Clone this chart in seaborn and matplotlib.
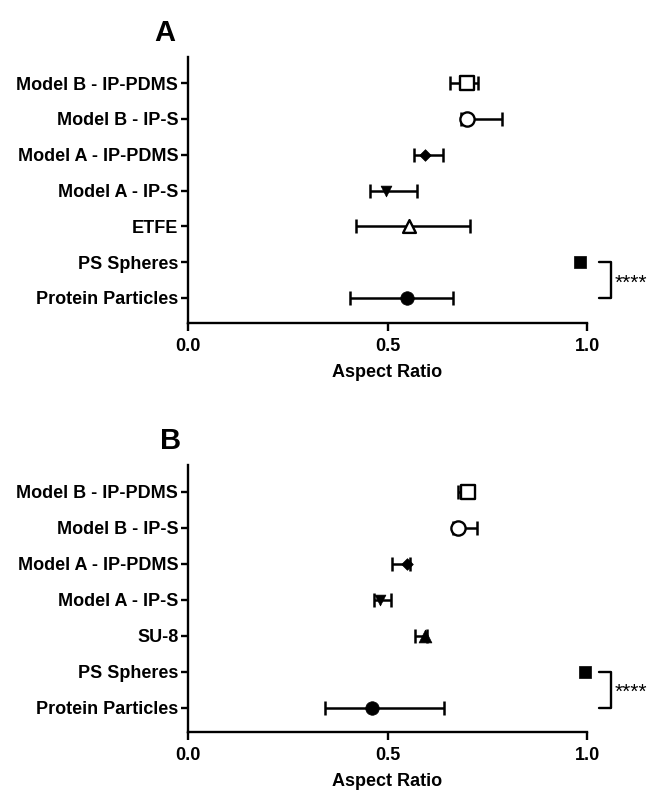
import matplotlib
matplotlib.use("Agg")
import matplotlib.pyplot as plt
import seaborn as sns
import pandas as pd

sns.set_theme(style="ticks")
plt.rcParams['font.family'] = ['Liberation Sans', 'DejaVu Sans']
plt.rcParams['text.color'] = 'black'
plt.rcParams['axes.labelcolor'] = 'black'
plt.rcParams['xtick.color'] = 'black'
plt.rcParams['ytick.color'] = 'black'

# ---- data ----
cats_a = ["Model B - IP-PDMS", "Model B - IP-S", "Model A - IP-PDMS", "Model A - IP-S",
          "ETFE", "PS Spheres", "Protein Particles"]
mean_a = [0.700, 0.700, 0.593, 0.497, 0.553, 0.982, 0.549]
low_a  = [0.656, 0.683, 0.566, 0.455, 0.422, 0.982, 0.407]
high_a = [0.728, 0.786, 0.640, 0.574, 0.706, 0.982, 0.665]
filled_a = [False, False, True, True, False, True, True]

cats_b = ["Model B - IP-PDMS", "Model B - IP-S", "Model A - IP-PDMS", "Model A - IP-S",
          "SU-8", "PS Spheres", "Protein Particles"]
mean_b = [0.702, 0.676, 0.548, 0.480, 0.595, 0.995, 0.461]
low_b  = [0.676, 0.665, 0.512, 0.467, 0.570, 0.995, 0.344]
high_b = [0.712, 0.725, 0.556, 0.508, 0.600, 0.995, 0.641]
filled_b = [False, False, True, True, True, True, True]

markers = ["s", "o", "D", "v", "^", "s", "o"]
msizes  = [95, 105, 35, 60, 85, 75, 95]

xticks = [0.0, 0.5, 1.0]
xlabel = "Aspect Ratio"
signif = "****"

fig = plt.figure(figsize=(6.52, 7.91), dpi=100)
W, H = 652, 791

def make_axes(top_px, bottom_px):
    left, right = 188, 587
    return fig.add_axes([left / W, (H - bottom_px) / H, (right - left) / W, (bottom_px - top_px) / H])

def draw_panel(ax, cats, mean, low, high, filled, top_margin, bottom_margin, label, label_xy):
    df = pd.DataFrame({"cat": cats, "mean": mean, "low": low, "high": high,
                       "marker": markers, "filled": filled, "size": msizes})
    df["y"] = range(len(df))
    eb = df[(df["high"] - df["low"]) > 0]
    ax.errorbar(eb["mean"], eb["y"],
                xerr=[eb["mean"] - eb["low"], eb["high"] - eb["mean"]],
                fmt="none", ecolor="black", elinewidth=1.8, capsize=5, capthick=1.8, zorder=2)
    for i, row in df.iterrows():
        sub = df.iloc[[i]]
        if row["filled"]:
            sns.scatterplot(data=sub, x="mean", y="y", marker=row["marker"], s=row["size"],
                            color="black", edgecolor="black", linewidth=0.5, ax=ax, zorder=3,
                            legend=False, clip_on=False)
        else:
            sns.scatterplot(data=sub, x="mean", y="y", marker=row["marker"], s=row["size"],
                            facecolor="white", edgecolor="black", linewidth=1.7, ax=ax, zorder=3,
                            legend=False, clip_on=False)
    n = len(df)
    ax.set_ylim(n - 1 + bottom_margin, -top_margin)
    ax.set_xlim(0, 1)
    ax.set_yticks(df["y"])
    ax.set_yticklabels(df["cat"], fontsize=13, fontweight="bold")
    ax.set_xticks(xticks)
    ax.set_xticklabels([f"{t:.1f}" for t in xticks], fontsize=13, fontweight="bold")
    ax.set_xlabel(xlabel, fontsize=13, fontweight="bold", labelpad=6)
    ax.set_ylabel("")
    for s in ["top", "right"]:
        ax.spines[s].set_visible(False)
    for s in ["left", "bottom"]:
        ax.spines[s].set_linewidth(1.7)
        ax.spines[s].set_color("black")
    ax.tick_params(axis="y", length=5, width=1.7, color="black", pad=2)
    ax.tick_params(axis="x", length=6, width=1.7, color="black", pad=5)
    # significance bracket between PS Spheres and Protein Particles
    y1, y2 = n - 2, n - 1
    x0, x1 = 1.03, 1.06
    ax.plot([x0, x1, x1, x0], [y1, y1, y2, y2], color="black", lw=1.7, clip_on=False)
    ax.text(1.068, (y1 + y2) / 2 + 0.08, signif, fontsize=15, va="center", ha="left",
            clip_on=False)
    fig.text(label_xy[0] / W, 1 - label_xy[1] / H, label, fontsize=21, fontweight="bold",
             ha="center", va="center")

axA = make_axes(57, 323)
draw_panel(axA, cats_a, mean_a, low_a, high_a, filled_a, 0.73, 0.70, "A", (165, 33))
axB = make_axes(465, 732)
draw_panel(axB, cats_b, mean_b, low_b, high_b, filled_b, 0.75, 0.67, "B", (171, 441))

fig.savefig("out.png", dpi=100)
